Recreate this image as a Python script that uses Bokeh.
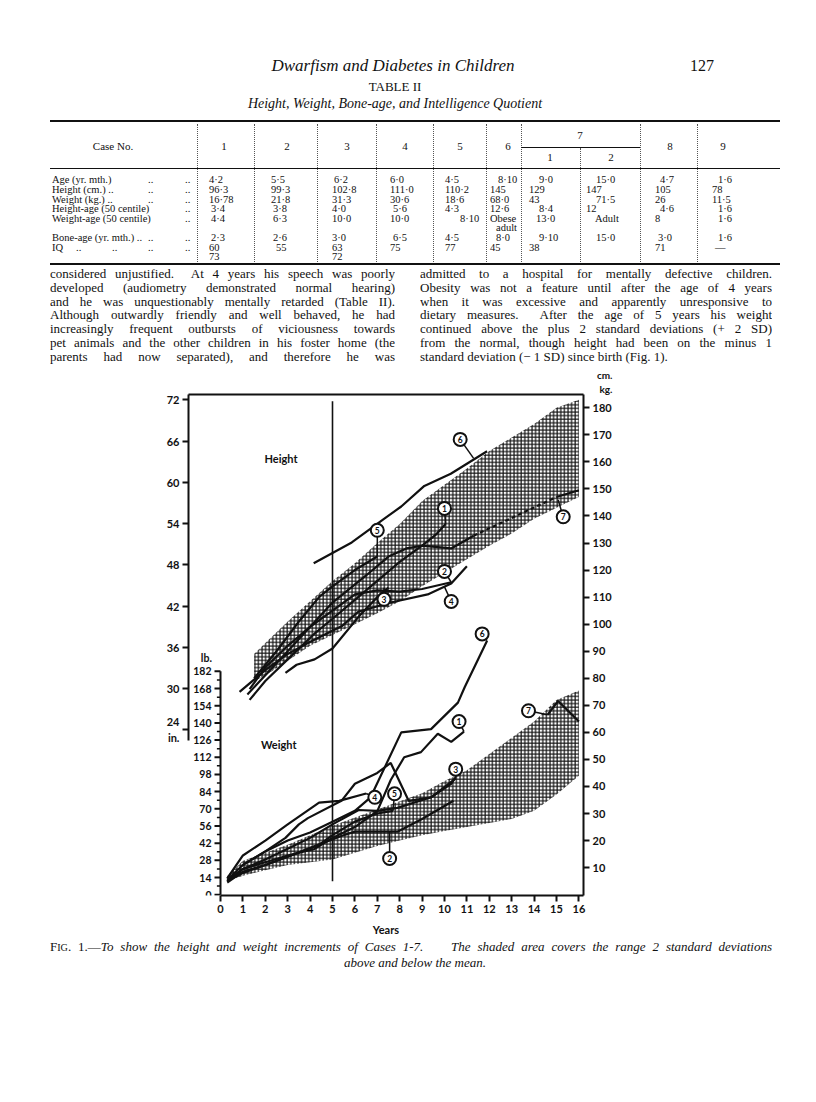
from bokeh.plotting import figure
from bokeh.models import Range1d, LinearAxis, FixedTicker, Label, Div, Title
from bokeh.layouts import column
from bokeh.embed import file_html
from bokeh.resources import INLINE
from bokeh.core.properties import value

# ---------------- data ----------------
year_ticks = list(range(0, 17))
cm_ticks = list(range(10, 181, 10))
in_ticks = list(range(24, 73, 6))
lb_ticks = list(range(0, 183, 14))

# shaded +/- 2 SD bands
hband_age = [1.5, 2, 3, 4, 5, 6, 7, 8, 9, 10, 11, 12, 13, 14, 15, 16]
hband_upper = [89, 93, 101, 108.5, 116, 122.5, 130, 137, 145.5, 151.5, 157.5, 164, 169, 174, 180, 183]
hband_lower = [79, 81, 86.5, 92, 96, 100, 104, 108.5, 114, 119, 124, 129, 133.5, 139, 143, 147]

wband_age = [0.3, 1, 2, 3, 4, 5, 6, 7, 8, 9, 10, 11, 12, 13, 14, 15, 16]
wband_upper = [7, 12.5, 15.5, 18.5, 22, 25.5, 28.5, 31.5, 34.5, 37.5, 42, 46, 52, 58, 64, 72, 75.5]
wband_lower = [5, 7, 9, 11, 12, 13, 15.5, 18, 20, 22, 23.5, 25, 26.5, 28, 31, 37, 44]

# height curves (years, cm)
h1_age = [1.3, 2, 3, 4.17, 5, 6, 7, 8, 9, 9.6, 10.05]
h1_cm = [72, 79, 87, 96.3, 102, 109, 116, 123, 129, 133, 137]
h2_age = [0.85, 2, 3, 3.9, 5.42, 6.15, 7.6, 9.25, 10.3, 11.0]
h2_cm = [75, 83, 89, 93, 99.3, 104.6, 108, 111, 115, 121.4]
h3_age = [2.9, 3.4, 4.2, 5.0, 6.17, 7.0, 7.5]
h3_cm = [82, 85, 87, 91, 102.8, 110, 113.5]
h4_age = [1.3, 2, 3, 4, 5, 6.0, 7, 8, 9, 10.3]
h4_cm = [76, 84, 92, 99, 105, 111, 112.5, 112, 113, 115.5]
h5_age = [1.5, 2.5, 3.5, 4.42, 5, 6, 7.0]
h5_cm = [80, 90, 101, 110.2, 114, 120, 125]
h6_age = [4.16, 5.86, 7.33, 8.07, 9.1, 10.28, 11.9]
h6_cm = [122.5, 130.2, 139.1, 143.5, 151.1, 155.6, 163.9]
h7_age = [1.2, 3, 5, 6.5, 7.5, 8.3, 9.0, 10.3, 11.3]
h7_cm = [74, 90, 108, 118, 125, 128, 129, 128, 132.7]
h7_gap_age = [11.3, 15.0]
h7_gap_cm = [132.7, 147]
h7_late_age = [15.0, 16.0]
h7_late_cm = [147, 149.5]

# weight curves (years, kg)
w1_age = [0.3, 1, 2, 3, 4.17, 5, 6, 7.0, 7.6, 8.2, 8.95, 9.7, 10.3, 10.87]
w1_kg = [5, 9.5, 12, 14.5, 16.8, 21, 25, 30.9, 42.4, 50.8, 52.7, 59.5, 56.5, 60.3]
w2_age = [0.5, 1, 2, 3, 3.9, 5.42, 6, 7.9, 9, 10.4]
w2_kg = [6, 8, 11, 14, 16.9, 21.8, 23.3, 23.3, 28, 34.7]
w3_age = [0.3, 1, 2, 3, 4, 5, 6.17, 7, 7.9, 9.4, 10.3, 10.5]
w3_kg = [5, 9.5, 13, 17, 21, 26, 31.3, 31, 32.1, 36, 41, 43.5]
w4_age = [0.3, 1, 2, 3, 4.4, 5.3, 6.5]
w4_kg = [6, 14.5, 20, 26, 34, 34.7, 37.4]
w5_age = [0.3, 1, 2, 3, 4.42, 5, 6, 7, 7.7]
w5_kg = [4.5, 8.5, 11, 14, 18.6, 22, 27, 30, 31]
w6_age = [0.3, 1, 2, 3, 4, 5, 6, 6.7, 8.07, 9.4, 10.6, 10.9, 11.9]
w6_kg = [5.5, 11, 16, 20, 23, 27, 31, 36, 60, 61.2, 71, 76.7, 93.9]
w7_age = [1, 2, 2.9, 3.5, 3.9, 5.4, 6.0, 7.0, 7.6, 8.4, 9.4, 10.5]
w7_kg = [11, 16, 21, 26, 28.3, 34.7, 41, 45, 48.7, 34.7, 36, 43]
w7_late_age = [14.6, 15.07, 16.0]
w7_late_kg = [66.5, 71.6, 64]

# case number markers and the point on the curve each one is tied to
h_marks = ["6", "1", "5", "7", "2", "4", "3"]
h_mark_x = [10.7, 10.0, 7.0, 15.3, 10.0, 10.3, 7.3]
h_mark_y = [168.3, 142.8, 134.7, 139.7, 119.5, 108.4, 109.2]
h_conn_x = [11.3, 10.05, 7.0, 15.07, 10.3, 10.0, 7.3]
h_conn_y = [161.3, 137, 125, 146, 115.5, 113.8, 113.5]
w_marks = ["6", "1", "7", "3", "4", "5", "2"]
w_mark_x = [11.68, 10.65, 13.75, 10.5, 6.89, 7.77, 7.55]
w_mark_y = [96.4, 64.0, 68.0, 46.4, 36.0, 37.3, 13.4]
w_conn_x = [11.9, 10.87, 14.6, 10.5, 6.5, 7.7, 7.55]
w_conn_y = [93.9, 60.3, 66.5, 43.5, 37.4, 31, 23.3]

age5_line_x = 5
age5_line_y = [5, 182.4]

# table II
col_heads = ["1", "2", "3", "4", "5", "6", "1", "2", "8", "9"]
row_labels = ["Age (yr. mth.)", "Height (cm.) ..", "Weight (kg.) ..", "Height-age (50 centile)",
              "Weight-age (50 centile)", "", "Bone-age (yr. mth.) ..", "IQ", ""]
age_vals = ["4·2", "5·5", "6·2", "6·0", "4·5", "8·10", "9·0", "15·0", "4·7", "1·6"]
height_vals = ["96·3", "99·3", "102·8", "111·0", "110·2", "145", "129", "147", "105", "78"]
weight_vals = ["16·78", "21·8", "31·3", "30·6", "18·6", "68·0", "43", "71·5", "26", "11·5"]
ha_vals = ["3·4", "3·8", "4·0", "5·6", "4·3", "12·6", "8·4", "12", "4·6", "1·6"]
wa_vals = ["4·4", "6·3", "10·0", "10·0", "8·10", "Obese", "13·0", "Adult", "8", "1·6"]
wa2_vals = ["", "", "", "", "", "adult", "", "", "", ""]
bone_vals = ["2·3", "2·6", "3·0", "6·5", "4·5", "8·0", "9·10", "15·0", "3·0", "1·6"]
iq_vals = ["60", "55", "63", "75", "77", "45", "38", "", "71", "—"]
iq2_vals = ["73", "", "72", "", "", "", "", "", "", ""]

left_lines = [
    "considered unjustified.&nbsp; At 4 years his speech was poorly",
    "developed (audiometry demonstrated normal hearing)",
    "and he was unquestionably mentally retarded (Table II).",
    "Although outwardly friendly and well behaved, he had",
    "increasingly frequent outbursts of viciousness towards",
    "pet animals and the other children in his foster home (the",
    "parents had now separated), and therefore he was",
]
right_lines = [
    "admitted to a hospital for mentally defective children.",
    "Obesity was not a feature until after the age of 4 years",
    "when it was excessive and apparently unresponsive to",
    "dietary measures.&nbsp; After the age of 5 years his weight",
    "continued above the plus 2 standard deviations (+ 2 SD)",
    "from the normal, though height had been on the minus 1",
]
right_last = "standard deviation (&minus; 1 SD) since birth (Fig. 1)."

# ---------------- page text (HTML, page pixel coordinates) ----------------
SERIF = "'Liberation Serif', 'Times New Roman', serif"


def txt(x, yc, s, size, align="left", w=None, style="", y0=0):
    lh = round(size * 1.25, 1)
    top = yc - y0 - lh / 2
    if align == "center":
        w = w or 700
        left = x - w / 2
    elif align == "right":
        w = w or 300
        left = x - w
    else:
        left = x
    wcss = f"width:{w}px;" if w else ""
    return (f'<div style="position:absolute;left:{left:.1f}px;top:{top:.1f}px;{wcss}'
            f'height:{lh}px;line-height:{lh}px;font-size:{size}px;text-align:{align};'
            f'white-space:nowrap;font-family:{SERIF};color:#111;{style}">{s}</div>')


def just(x, yc, s, size, w, style="", y0=0):
    lh = round(size * 1.25, 1)
    top = yc - y0 - lh / 2
    return (f'<div style="position:absolute;left:{x:.1f}px;top:{top:.1f}px;width:{w}px;'
            f'height:{lh}px;line-height:{lh}px;overflow:hidden;font-size:{size}px;'
            f'text-align:justify;text-align-last:justify;font-family:{SERIF};color:#111;{style}">{s}</div>')


def hrule(x0, x1, y, th):
    return (f'<div style="position:absolute;left:{x0}px;top:{y-th/2:.1f}px;width:{x1-x0}px;'
            f'height:{th}px;background:#111"></div>')


def vdots(x, y0, y1):
    return (f'<div style="position:absolute;left:{x}px;top:{y0}px;width:0;height:{y1-y0}px;'
            f'border-left:1px dotted #555"></div>')


L, R = 50, 780
parts = []
parts.append(txt(393, 66, "Dwarfism and Diabetes in Children", 17, "center", style="font-style:italic"))
parts.append(txt(714, 66, "127", 16, "right", w=60))
parts.append(txt(395, 87, "TABLE II", 13, "center"))
parts.append(txt(395, 104, "Height, Weight, Bone-age, and Intelligence Quotient", 14, "center",
                 style="font-style:italic"))
parts.append(hrule(L, R, 121, 2.5))
seps = [197, 254, 317, 376, 433, 486, 521, 640, 697]
for sx in seps:
    parts.append(vdots(sx, 124, 262))
parts.append(vdots(580, 148, 262))
parts.append(hrule(521, 640, 147.5, 1))
parts.append(hrule(L, R, 168, 1))
parts.append(txt(113, 147, "Case No.", 11, "center", w=120))
head_x = [224, 287, 347, 405, 460, 508, 550, 611, 670, 723]
for i, h in enumerate(col_heads):
    yy = 157.5 if i in (6, 7) else 147
    parts.append(txt(head_x[i], yy, h, 11, "center", w=30))
parts.append(txt(580, 136, "7", 11, "center", w=30))

col_left = [209, 271, 332, 390, 445, 490, 529, 586, 655, 712]
rows = [age_vals, height_vals, weight_vals, ha_vals, wa_vals, wa2_vals, bone_vals, iq_vals, iq2_vals]
row_y = [180, 189.7, 199.3, 209, 218.5, 228, 238, 247.3, 256.5]
shift = {(0, 5): 8, (4, 4): 15, (5, 5): 6, (6, 5): 6, (0, 6): 10, (3, 6): 10, (4, 6): 7,
         (6, 6): 10, (0, 8): 5, (3, 8): 5, (6, 8): 3, (0, 9): 6, (3, 9): 6, (4, 9): 6, (6, 9): 6,
         (7, 9): 3, (7, 1): 5, (0, 7): 10, (2, 7): 10, (4, 7): 9, (6, 7): 10, (0, 2): 2, (3, 0): 2,
         (4, 0): 2, (6, 0): 2, (3, 1): 2, (4, 1): 2, (6, 1): 2, (3, 3): 3, (6, 3): 3}
for r, vals in enumerate(rows):
    for c, v in enumerate(vals):
        if v:
            parts.append(txt(col_left[c] + shift.get((r, c), 0), row_y[r], v, 10.5))
dots = {0: [148, 185], 1: [148, 185], 2: [148, 185], 3: [185], 4: [185], 6: [148, 185],
        7: [76, 112, 148, 185]}
for r, lab in enumerate(row_labels):
    if lab:
        parts.append(txt(L + 2, row_y[r], lab, 10.5))
    for dx in dots.get(r, []):
        parts.append(txt(dx, row_y[r], "..", 10.5))
parts.append(hrule(L, R, 264, 2.5))

PARA_Y0, PARA_DY = 274, 13.8
for i, s in enumerate(left_lines):
    parts.append(just(50, PARA_Y0 + PARA_DY * i, s, 13, 345))
for i, s in enumerate(right_lines):
    parts.append(just(420, PARA_Y0 + PARA_DY * i, s, 13, 352))
parts.append(txt(420, PARA_Y0 + PARA_DY * 6, right_last, 13))

TOP_H = 366
top_div = Div(text=f'<div style="position:relative;width:800px;height:{TOP_H}px;">' + "".join(parts) + "</div>",
              width=800, height=TOP_H, margin=0)

# ---------------- chart ----------------
FR_L, FR_R, FR_T, FR_B = 188, 583, 394, 895
X0_PX, PX_PER_YR = 220, 22.4
y_start, y_end = -0.3, 184.9
x_start = (FR_L - X0_PX) / PX_PER_YR
x_end = (FR_R - X0_PX) / PX_PER_YR
PX_PER_U = (FR_B - FR_T) / (y_end - y_start)
BOT = 50

p = figure(frame_width=FR_R - FR_L, frame_height=FR_B - FR_T,
           min_border_left=FR_L, min_border_right=800 - FR_R, min_border_top=FR_T - TOP_H,
           min_border_bottom=BOT,
           x_range=Range1d(x_start, x_end), y_range=Range1d(y_start, y_end),
           output_backend="svg", toolbar_location=None, x_axis_location=None, y_axis_location=None,
           background_fill_color="white", border_fill_color="white", outline_line_color=None, margin=0)
p.grid.visible = False
p.title.visible = False

FONT = "Lato"
ax_style = dict(axis_line_width=2, axis_line_color="#111", major_tick_out=6, major_tick_in=0,
                major_tick_line_width=2, major_tick_line_color="#111", minor_tick_line_color=None,
                major_label_text_font=FONT, major_label_text_font_style="bold",
                major_label_text_font_size="11px", major_label_text_color="#111", major_label_standoff=3)

xaxis = LinearAxis(ticker=FixedTicker(ticks=year_ticks), bounds=(0, x_end), axis_label="Years",
                   axis_label_text_font=FONT, axis_label_text_font_style="bold",
                   axis_label_text_font_size="11px", axis_label_standoff=7, axis_label_text_color="#111",
                   **ax_style)
p.add_layout(xaxis, "below")
raxis = LinearAxis(ticker=FixedTicker(ticks=cm_ticks), **ax_style)
p.add_layout(raxis, "right")
p.extra_y_ranges = {"inch": Range1d(y_start / 2.54, y_end / 2.54)}
iaxis = LinearAxis(y_range_name="inch", ticker=FixedTicker(ticks=in_ticks), bounds=(22.4, y_end / 2.54),
                   major_label_overrides={24: "24\nin."}, **ax_style)
p.add_layout(iaxis, "left")
taxis = LinearAxis(ticker=FixedTicker(ticks=[]), axis_line_width=2, axis_line_color="#111",
                   major_tick_line_color=None, minor_tick_line_color=None, major_label_text_font_size="0px",
                   major_label_standoff=0, major_tick_out=0)
p.add_layout(taxis, "above")
for t in ["kg.", "cm."]:
    p.add_layout(Title(text=t, align="right", offset=-29, standoff=0, text_font=FONT,
                       text_font_style="bold", text_font_size="10px", text_color="#111"), "above")

# shaded bands
for ages, up, lo in [(hband_age, hband_upper, hband_lower), (wband_age, wband_upper, wband_lower)]:
    p.patch(ages + ages[::-1], up + lo[::-1], fill_color=None, line_color=None,
            hatch_pattern="+", hatch_color="#111", hatch_weight=1.2, hatch_scale=3.6, hatch_alpha=1)

# lb axis (drawn at age 0 inside the frame)
KG_PER_LB = 1 / 2.2046
lb_y = [v * KG_PER_LB for v in lb_ticks]
p.segment(x0=[0], y0=[0], x1=[0], y1=[lb_ticks[-1] * KG_PER_LB], line_width=2, line_color="#111")
tick = 6 / PX_PER_YR
p.segment(x0=[0] * len(lb_y), y0=lb_y, x1=[-tick] * len(lb_y), y1=lb_y, line_width=2, line_color="#111")
minor_y = [(v + 7) * KG_PER_LB for v in lb_ticks[:-1]]
p.segment(x0=[0] * len(minor_y), y0=minor_y, x1=[-tick * 0.6] * len(minor_y), y1=minor_y,
          line_width=1.5, line_color="#111")
p.text(x=[0] * len(lb_y), y=lb_y, text=[str(v) for v in lb_ticks], x_offset=-9,
       text_align="right", text_baseline="middle", text_font=value(FONT), text_font_style="bold",
       text_font_size="10.5px", text_color="#111")

# age 5 reference line
p.segment(x0=[age5_line_x], y0=[age5_line_y[0]], x1=[age5_line_x], y1=[age5_line_y[1]],
          line_width=1.6, line_color="#111")

LW = 2.2
for xs, ys in [(h1_age, h1_cm), (h2_age, h2_cm), (h3_age, h3_cm), (h4_age, h4_cm), (h5_age, h5_cm),
               (h6_age, h6_cm), (h7_age, h7_cm), (h7_late_age, h7_late_cm),
               (w1_age, w1_kg), (w2_age, w2_kg), (w3_age, w3_kg), (w4_age, w4_kg), (w5_age, w5_kg),
               (w6_age, w6_kg), (w7_age, w7_kg), (w7_late_age, w7_late_kg)]:
    p.line(xs, ys, line_width=LW, line_color="#111")
p.line(h7_gap_age, h7_gap_cm, line_width=LW, line_color="#111", line_dash="4 3")

mx = h_mark_x + w_mark_x
my = h_mark_y + w_mark_y
cx = h_conn_x + w_conn_x
cy = h_conn_y + w_conn_y
p.segment(x0=mx, y0=my, x1=cx, y1=cy, line_width=1.5, line_color="#111")
p.scatter(mx, my, size=13, marker="circle", fill_color="white", line_color="#111", line_width=2)
p.text(x=mx, y=my, text=h_marks + w_marks, text_align="center", text_baseline="middle",
       text_font=value(FONT), text_font_style="bold", text_font_size="8.5px", text_color="#111")

lab = dict(text_font=FONT, text_font_style="bold", text_color="#111", text_baseline="middle")
p.add_layout(Label(x=2.7, y=161.3, text="Height", text_align="center", text_font_size="11px", **lab))
p.add_layout(Label(x=2.6, y=55.7, text="Weight", text_align="center", text_font_size="11px", **lab))
p.add_layout(Label(x=-0.63, y=87.5, text="lb.", text_align="center", text_font_size="10.5px", **lab))

# ---------------- caption ----------------
CAP_TOP = FR_B + BOT
cap = []
cap.append(just(50, 947, 'F<span style="font-size:78%">IG</span>. 1.&mdash;<i>To show the height and '
           'weight increments of Cases 1-7.&nbsp;&nbsp;&nbsp; The shaded area covers the range 2 standard '
           'deviations</i>', 13, 722, y0=CAP_TOP))
cap.append(txt(415, 963, "above and below the mean.", 13, "center", style="font-style:italic", y0=CAP_TOP))
cap_div = Div(text='<div style="position:relative;width:800px;height:130px;overflow:visible;">'
              + "".join(cap) + "</div>", width=800, height=130, margin=0)

page = column(top_div, p, cap_div, spacing=0, margin=0)
open("out.html", "w").write(file_html(page, INLINE))
